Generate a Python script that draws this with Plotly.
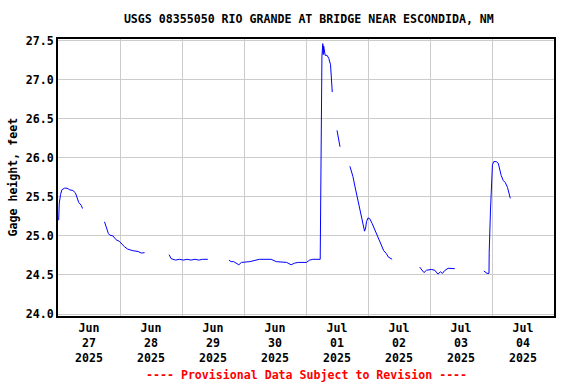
import plotly.graph_objects as go

title_text = "USGS 08355050 RIO GRANDE AT BRIDGE NEAR ESCONDIDA, NM"
y_title = "Gage height, feet"
footer_text = "---- Provisional Data Subject to Revision ----"

# Gage height series; None marks gaps in the record
times = [
    # segment 1
    "2025-06-27 00:15", "2025-06-27 00:30", "2025-06-27 01:00", "2025-06-27 01:30",
    "2025-06-27 02:30", "2025-06-27 03:30", "2025-06-27 04:30", "2025-06-27 05:45",
    "2025-06-27 06:45", "2025-06-27 07:15", "2025-06-27 08:00", "2025-06-27 09:00",
    "2025-06-27 09:30", "2025-06-27 13:00",
    # segment 2
    "2025-06-27 18:00", "2025-06-27 18:45", "2025-06-27 19:30", "2025-06-27 20:00",
    "2025-06-27 21:15", "2025-06-27 22:30", "2025-06-27 23:45", "2025-06-28 01:45",
    "2025-06-28 03:00", "2025-06-28 05:00", "2025-06-28 07:00", "2025-06-28 08:15",
    "2025-06-28 09:30", "2025-06-28 14:00",
    # segment 3
    "2025-06-28 19:00", "2025-06-28 19:45", "2025-06-28 20:30", "2025-06-28 21:30",
    "2025-06-28 23:00", "2025-06-29 00:30", "2025-06-29 02:00", "2025-06-29 03:30",
    "2025-06-29 05:00", "2025-06-29 06:30", "2025-06-29 08:00", "2025-06-29 10:00",
    "2025-06-29 14:00",
    # segment 4
    "2025-06-29 18:10", "2025-06-29 19:00", "2025-06-29 20:00", "2025-06-29 22:00",
    "2025-06-29 23:00", "2025-06-30 02:15", "2025-06-30 06:00", "2025-06-30 10:30",
    "2025-06-30 12:30", "2025-06-30 16:30", "2025-06-30 18:15", "2025-06-30 19:30",
    "2025-06-30 21:00", "2025-07-01 00:10", "2025-07-01 01:25", "2025-07-01 02:40",
    "2025-07-01 05:30", "2025-07-01 05:35", "2025-07-01 05:55", "2025-07-01 06:10",
    "2025-07-01 06:30", "2025-07-01 06:40", "2025-07-01 06:50", "2025-07-01 07:25",
    "2025-07-01 08:10", "2025-07-01 08:50", "2025-07-01 09:30", "2025-07-01 09:40",
    "2025-07-01 09:55", "2025-07-01 10:10", "2025-07-01 11:00",
    # segment 5
    "2025-07-01 12:00", "2025-07-01 12:40", "2025-07-01 13:10", "2025-07-01 15:00",
    # segment 6
    "2025-07-01 17:00", "2025-07-01 17:40", "2025-07-01 18:10", "2025-07-01 18:50",
    "2025-07-01 19:30", "2025-07-01 20:05", "2025-07-01 20:50", "2025-07-01 21:25",
    "2025-07-01 22:05", "2025-07-01 22:40", "2025-07-01 23:05", "2025-07-01 23:25",
    "2025-07-02 00:00", "2025-07-02 00:40", "2025-07-02 01:35", "2025-07-02 02:30",
    "2025-07-02 03:20", "2025-07-02 04:10", "2025-07-02 05:10", "2025-07-02 06:05",
    "2025-07-02 07:10", "2025-07-02 07:50", "2025-07-02 09:20", "2025-07-02 14:00",
    # segment 7
    "2025-07-02 20:00", "2025-07-02 20:55", "2025-07-02 21:40", "2025-07-02 22:40",
    "2025-07-03 00:30", "2025-07-03 01:50", "2025-07-03 03:05", "2025-07-03 04:00",
    "2025-07-03 04:50", "2025-07-03 05:40", "2025-07-03 07:00", "2025-07-03 09:35",
    "2025-07-03 14:00",
    # segment 8
    "2025-07-03 20:50", "2025-07-03 22:05", "2025-07-03 22:50", "2025-07-03 22:55",
    "2025-07-03 23:25", "2025-07-03 23:50", "2025-07-04 00:10", "2025-07-04 00:40",
    "2025-07-04 01:40", "2025-07-04 02:25", "2025-07-04 03:00", "2025-07-04 03:35",
    "2025-07-04 04:20", "2025-07-04 05:10", "2025-07-04 06:00", "2025-07-04 06:25",
    "2025-07-04 07:05",
]

gage_height = [
    # segment 1
    25.20, 25.42, 25.53, 25.59, 25.61, 25.61, 25.59, 25.58,
    25.55, 25.50, 25.43, 25.39, 25.35, None,
    # segment 2
    25.18, 25.10, 25.03, 25.01, 25.00, 24.95, 24.93, 24.86,
    24.83, 24.81, 24.80, 24.78, 24.785, None,
    # segment 3
    24.76, 24.71, 24.70, 24.69, 24.70, 24.69, 24.70, 24.69,
    24.70, 24.69, 24.70, 24.70, None,
    # segment 4
    24.69, 24.67, 24.67, 24.63, 24.66, 24.67, 24.70, 24.70,
    24.67, 24.66, 24.63, 24.65, 24.66, 24.66, 24.69, 24.70,
    24.70, 25.06, 26.04, 27.30, 27.46, 27.32, 27.43, 27.31,
    27.31, 27.27, 27.19, 27.11, 26.98, 26.84, None,
    # segment 5
    26.35, 26.25, 26.14, None,
    # segment 6
    25.89, 25.82, 25.76, 25.65, 25.55, 25.42, 25.31, 25.23,
    25.12, 25.06, 25.10, 25.18, 25.23, 25.22, 25.16, 25.09,
    25.01, 24.95, 24.87, 24.81, 24.77, 24.73, 24.70, None,
    # segment 7
    24.60, 24.56, 24.53, 24.56, 24.57, 24.56, 24.51, 24.54,
    24.52, 24.555, 24.585, 24.58, None,
    # segment 8
    24.55, 24.52, 24.52, 24.79, 25.33, 25.82, 25.91, 25.95,
    25.95, 25.93, 25.85, 25.77, 25.71, 25.68, 25.62, 25.55,
    25.48,
]

day_label_positions = [
    "2025-06-27 12:00", "2025-06-28 12:00", "2025-06-29 12:00", "2025-06-30 12:00",
    "2025-07-01 12:00", "2025-07-02 12:00", "2025-07-03 12:00", "2025-07-04 12:00",
]
day_labels = [
    "Jun<br>27<br>2025", "Jun<br>28<br>2025", "Jun<br>29<br>2025", "Jun<br>30<br>2025",
    "Jul<br>01<br>2025", "Jul<br>02<br>2025", "Jul<br>03<br>2025", "Jul<br>04<br>2025",
]
y_ticks = [24.0, 24.5, 25.0, 25.5, 26.0, 26.5, 27.0, 27.5]

FONT = "DejaVu Sans Mono"
GRID = "#cccccc"
FS = 11.6

fig = go.Figure()
fig.add_trace(go.Scatter(
    x=times, y=gage_height, mode="lines",
    line=dict(color="#0000ff", width=1),
    connectgaps=False, showlegend=False, hoverinfo="x+y",
))

fig.update_layout(
    width=576, height=384,
    margin=dict(l=58, r=22, t=39, b=68),
    paper_bgcolor="white", plot_bgcolor="white",
    font=dict(family=FONT, size=FS, color="black", weight="bold"),
    title=dict(text=title_text, x=(58 + 554) / 2 / 576 + 0.005, xanchor="center",
               y=1 - 19 / 384, yanchor="middle",
               font=dict(family=FONT, size=FS, color="black", weight="bold")),
    xaxis=dict(
        type="date",
        range=["2025-06-27 00:00", "2025-07-05 00:00"],
        tickmode="array", tickvals=day_label_positions, ticktext=day_labels,
        showgrid=False, ticks="", zeroline=False,
        showline=True, linecolor="black", linewidth=2, mirror=True,
        minor=dict(tickmode="linear", tick0="2025-06-27", dtick=86400000,
                   showgrid=True, gridcolor=GRID, gridwidth=1, ticks=""),
        tickfont=dict(family=FONT, size=FS, color="black", weight="bold"),
    ),
    yaxis=dict(
        range=[24.0 - 2 / 78, 27.5 + 1.5 / 78],
        tickmode="array", tickvals=y_ticks, ticktext=[f"{v:.1f}" for v in y_ticks],
        showgrid=True, gridcolor=GRID, gridwidth=1, ticks="", zeroline=False,
        showline=True, linecolor="black", linewidth=2, mirror=True,
        tickfont=dict(family=FONT, size=FS, color="black", weight="bold"),
    ),
    annotations=[
        dict(text=y_title, xref="paper", yref="paper",
             x=(12 - 58) / 496, y=0.5, textangle=-90, showarrow=False,
             xanchor="center", yanchor="middle",
             font=dict(family=FONT, size=FS, color="black", weight="bold")),
        dict(text=footer_text, xref="paper", yref="paper",
             x=0.5, y=-(375 - 316) / 276.5, showarrow=False,
             xanchor="center", yanchor="middle",
             font=dict(family=FONT, size=FS, color="red", weight="bold")),
    ],
)

fig.write_html(
    "out.html",
    config={"displayModeBar": False},
    post_script="document.body.style.margin='0';document.body.style.overflow='hidden';",
)
